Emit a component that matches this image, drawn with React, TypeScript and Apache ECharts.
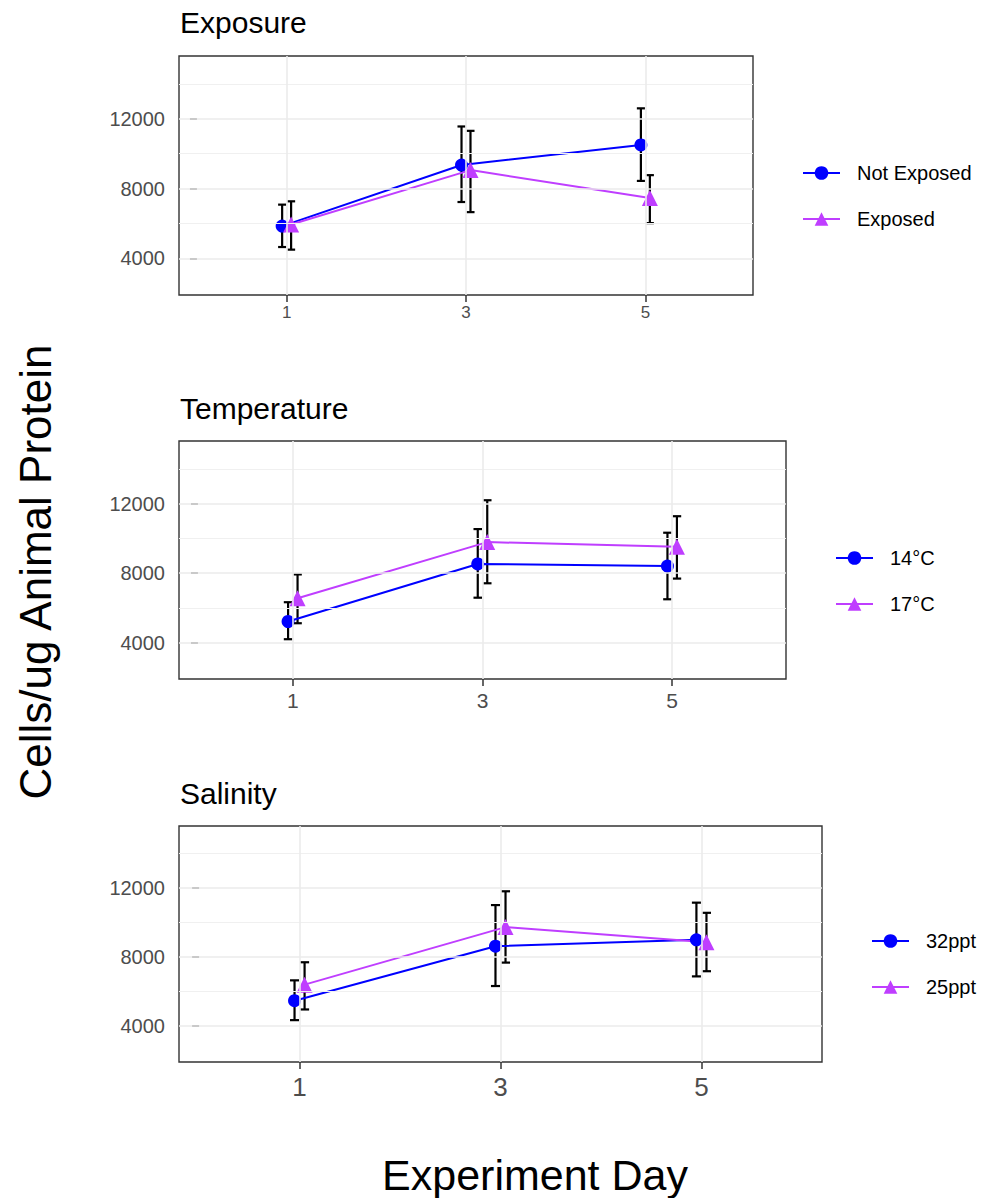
import React, { useEffect, useRef } from "react";
import * as echarts from "echarts";

const DAYS = [1, 3, 5];
const X_TICKS = [1, 3, 5];
const Y_TICKS = [4000, 8000, 12000];
const Y_MINOR = [6000, 10000, 14000];

// Exposure panel
const notExposedMean = [5850, 9350, 10500];
const notExposedLow = [4650, 7230, 8440];
const notExposedHigh = [7080, 11560, 12600];
const exposedMean = [5940, 9060, 7460];
const exposedLow = [4500, 6650, 6020];
const exposedHigh = [7270, 11310, 8770];

// Temperature panel
const t14Mean = [5210, 8520, 8400];
const t14Low = [4190, 6580, 6490];
const t14High = [6320, 10530, 10320];
const t17Mean = [6550, 9780, 9510];
const t17Low = [5110, 7410, 7680];
const t17High = [7920, 12190, 11270];

// Salinity panel
const s32Mean = [5460, 8620, 8990];
const s32Low = [4330, 6310, 6870];
const s32High = [6640, 11010, 11150];
const s25Mean = [6390, 9730, 8850];
const s25Low = [4950, 7670, 7170];
const s25High = [7690, 11810, 10560];

const FONT = "'Liberation Sans', Arial, sans-serif";
const BLUE = "#0000FF";
const PURPLE = "#BF3EFF";
const DODGE = 0.05;
const CAP = 0.045;

type Panel = {
  title: string;
  names: [string, string];
  means: [number[], number[]];
  lows: [number[], number[]];
  highs: [number[], number[]];
  grid: { left: number; top: number; width: number; height: number };
  xFont: number;
  xMargin: number;
  legendTop: number;
  legendLeft: number;
  titleY: number;
};

const panels: Panel[] = [
  {
    title: "Exposure",
    names: ["Not Exposed", "Exposed"],
    means: [notExposedMean, exposedMean],
    lows: [notExposedLow, exposedLow],
    highs: [notExposedHigh, exposedHigh],
    grid: { left: 179, top: 56, width: 574, height: 239 },
    xFont: 17,
    xMargin: 9,
    legendTop: 163,
    legendLeft: 802,
    titleY: 22.5,
  },
  {
    title: "Temperature",
    names: ["14°C", "17°C"],
    means: [t14Mean, t17Mean],
    lows: [t14Low, t17Low],
    highs: [t14High, t17High],
    grid: { left: 179, top: 441, width: 607, height: 238 },
    xFont: 21,
    xMargin: 11,
    legendTop: 548,
    legendLeft: 835,
    titleY: 408,
  },
  {
    title: "Salinity",
    names: ["32ppt", "25ppt"],
    means: [s32Mean, s25Mean],
    lows: [s32Low, s25Low],
    highs: [s32High, s25High],
    grid: { left: 179, top: 826, width: 643, height: 236 },
    xFont: 26,
    xMargin: 12,
    legendTop: 931,
    legendLeft: 871,
    titleY: 793,
  },
];

function errorBarRender(params: any, api: any) {
  const x = api.value(0);
  const lo = api.value(1);
  const hi = api.value(2);
  const top = api.coord([x, hi]);
  const bot = api.coord([x, lo]);
  const hw = api.size([CAP, 0])[0];
  const style = { stroke: "#000", lineWidth: 2.2 };
  return {
    type: "group",
    children: [
      { type: "line", shape: { x1: top[0], y1: top[1], x2: bot[0], y2: bot[1] }, style },
      { type: "line", shape: { x1: top[0] - hw, y1: top[1], x2: top[0] + hw, y2: top[1] }, style },
      { type: "line", shape: { x1: bot[0] - hw, y1: bot[1], x2: bot[0] + hw, y2: bot[1] }, style },
    ],
  };
}

function buildOption() {
  const grid: any[] = [];
  const xAxis: any[] = [];
  const yAxis: any[] = [];
  const series: any[] = [];
  const legend: any[] = [];
  const graphic: any[] = [];

  panels.forEach((p, i) => {
    grid.push({
      ...p.grid,
      show: true,
      borderColor: "#333333",
      borderWidth: 1.4,
      backgroundColor: "#FFFFFF",
      containLabel: false,
    });
    xAxis.push({
      gridIndex: i,
      type: "value",
      min: -0.2,
      max: 6.2,
      axisLine: { show: false },
      axisTick: { show: true, customValues: X_TICKS, length: 7, lineStyle: { color: "#333333", width: 1.5 } },
      axisLabel: {
        customValues: X_TICKS,
        fontSize: p.xFont,
        color: "#4D4D4D",
        margin: p.xMargin,
        fontFamily: FONT,
        formatter: (v: number) => String(v),
      },
      splitLine: { show: false },
    });
    yAxis.push({
      gridIndex: i,
      type: "value",
      min: 1900,
      max: 15600,
      axisLine: { show: false },
      axisTick: { show: true, customValues: Y_TICKS, length: 7, lineStyle: { color: "#333333", width: 1.5 } },
      axisLabel: {
        customValues: Y_TICKS,
        fontSize: 20,
        color: "#4D4D4D",
        margin: 14,
        fontFamily: FONT,
        formatter: (v: number) => String(v),
      },
      splitLine: { show: false },
    });

    // gridlines
    series.push({
      type: "line",
      xAxisIndex: i,
      yAxisIndex: i,
      data: [],
      silent: true,
      z: 0,
      markLine: {
        silent: true,
        symbol: "none",
        animation: false,
        label: { show: false },
        data: [
          ...Y_MINOR.map((v) => ({ yAxis: v, lineStyle: { color: "#F0F0F0", width: 1, type: "solid" } })),
          ...Y_TICKS.map((v) => ({ yAxis: v, lineStyle: { color: "#EBEBEB", width: 1.6, type: "solid" } })),
          ...X_TICKS.map((v) => ({ xAxis: v, lineStyle: { color: "#EBEBEB", width: 1.6, type: "solid" } })),
        ],
      },
    });

    const colors = [BLUE, PURPLE];
    const symbols = ["circle", "triangle"];
    const sizes = [13, 16];
    const offsets = [-DODGE, DODGE];
    [0, 1].forEach((k) => {
      series.push({
        type: "custom",
        name: p.names[k] + " error",
        xAxisIndex: i,
        yAxisIndex: i,
        z: 1,
        renderItem: errorBarRender,
        encode: { x: 0, y: [1, 2] },
        data: DAYS.map((d, j) => [d + offsets[k], p.lows[k][j], p.highs[k][j]]),
        silent: true,
      });
    });
    [0, 1].forEach((k) => {
      series.push({
        type: "line",
        name: p.names[k],
        xAxisIndex: i,
        yAxisIndex: i,
        z: 3,
        data: DAYS.map((d, j) => [d + offsets[k], p.means[k][j]]),
        symbol: symbols[k],
        symbolSize: sizes[k],
        showAllSymbol: true,
        lineStyle: { color: colors[k], width: 2 },
        itemStyle: { color: colors[k] },
        emphasis: { disabled: true },
      });
    });

    legend.push({
      data: p.names.map((n) => ({ name: n })),
      orient: "vertical",
      left: p.legendLeft,
      top: p.legendTop,
      padding: 0,
      itemWidth: 37,
      itemHeight: 17,
      itemGap: 26,
      selectedMode: false,
      textStyle: { fontSize: 20, color: "#000000", fontFamily: FONT, padding: [0, 0, 0, 12] },
    });

    graphic.push({
      type: "text",
      left: 180,
      top: p.titleY - 15,
      style: { text: p.title, fontSize: 30, fill: "#000000", fontFamily: FONT },
    });
  });

  graphic.push({
    type: "text",
    x: 35,
    y: 572,
    rotation: Math.PI / 2,
    style: {
      text: "Cells/ug Animal Protein",
      fontSize: 44,
      fill: "#000000",
      fontFamily: FONT,
      align: "center",
      verticalAlign: "middle",
    },
  });
  graphic.push({
    type: "text",
    x: 535,
    y: 1175,
    style: {
      text: "Experiment Day",
      fontSize: 43,
      fill: "#000000",
      fontFamily: FONT,
      align: "center",
      verticalAlign: "middle",
    },
  });

  return {
    animation: false,
    backgroundColor: "#FFFFFF",
    grid,
    xAxis,
    yAxis,
    legend,
    series,
    graphic,
  };
}

export default function App() {
  const ref = useRef<HTMLDivElement>(null);
  useEffect(() => {
    if (!ref.current) return;
    const chart = echarts.init(ref.current, undefined, { renderer: "svg" });
    chart.setOption(buildOption() as any);
    return () => chart.dispose();
  }, []);
  return (
    <div
      ref={ref}
      style={{ position: "absolute", left: 0, top: 0, width: 993, height: 1198 }}
    />
  );
}
